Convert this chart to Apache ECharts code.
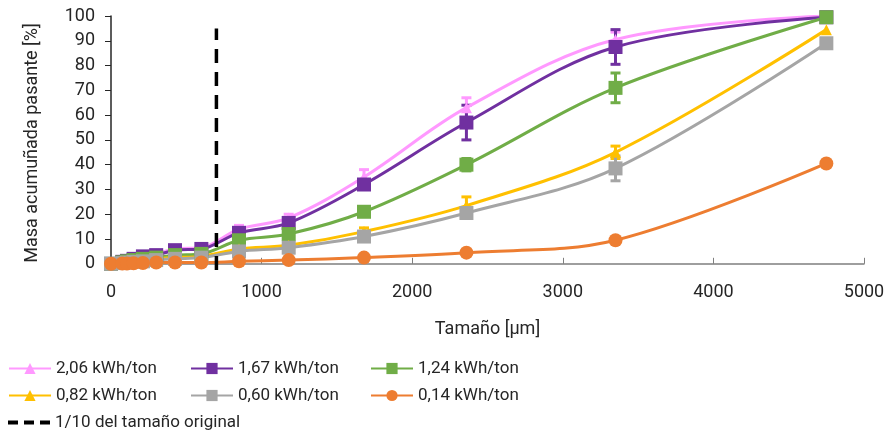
<!DOCTYPE html>
<html>
<head>
<meta charset="utf-8">
<script src="https://cdn.jsdelivr.net/npm/echarts@6/dist/echarts.min.js"></script>
<style>
html, body { margin: 0; padding: 0; background: #fff; }
#chart { width: 888px; height: 434px; }
</style>
</head>
<body>
<div id="chart"></div>
<script>
var sizes = [0, 75, 106, 150, 212, 300, 425, 600, 850, 1180, 1680, 2360, 3350, 4750];
var names = ['2,06 kWh/ton', '1,67 kWh/ton', '1,24 kWh/ton', '0,82 kWh/ton', '0,60 kWh/ton', '0,14 kWh/ton'];
var pass206 = [0, 1, 1.5, 2, 3, 4, 6, 6.5, 14, 18.5, 35, 63, 90.5, 100];
var pass167 = [0, 0.8, 1.2, 2, 3, 3.5, 5.5, 6, 12.5, 16.5, 32, 57, 87.5, 99.5];
var pass124 = [0, 0.6, 1, 1.5, 2, 2.5, 3.5, 4, 9.5, 12, 21, 40, 71, 99.5];
var pass082 = [0, 0.4, 0.7, 1, 1.5, 2, 2.5, 3, 6, 7.5, 13, 23.5, 45, 94.5];
var pass060 = [0, 0.3, 0.5, 0.8, 1, 1.5, 2, 2.5, 5, 6.5, 11, 20.5, 38.5, 89];
var pass014 = [0, 0.1, 0.1, 0.2, 0.3, 0.5, 0.5, 0.5, 1, 1.5, 2.5, 4.5, 9.5, 40.5];
var err206 = [0, 0, 0, 0, 0, 0, 0, 0, 1.5, 1.5, 3, 4, 3, 0];
var err167 = [0, 0, 0, 0, 0, 0, 0, 0, 1, 1.5, 2, 7, 7, 0];
var err124 = [0, 0, 0, 0, 0, 0, 0, 0, 1, 1, 1.5, 2.5, 6, 0];
var err082 = [0, 0, 0, 0, 0, 0, 0, 0, 0.5, 0.5, 1.5, 3.5, 2.5, 0];
var err060 = [0, 0, 0, 0, 0, 0, 0, 0, 0.5, 0.5, 1, 2, 5, 0];
var err014 = [0, 0, 0, 0, 0, 0, 0, 0, 0, 0, 0, 0, 0.5, 0];
var cutName = '1/10 del tamaño original';
var cutX = 700;
var cutY = [-2.5, 95];
var yTicks = [0, 10, 20, 30, 40, 50, 60, 70, 80, 90, 100];

var allPass = [pass206, pass167, pass124, pass082, pass060, pass014];
var allErr = [err206, err167, err124, err082, err060, err014];
var colors = ['#ff99ff', '#7030a0', '#70ad47', '#ffc000', '#a5a5a5', '#ed7d31'];
var symbols = ['triangle', 'rect', 'rect', 'triangle', 'rect', 'circle'];
var symSizes = [11, 14, 14, 11, 14, 14];

var chart = echarts.init(document.getElementById('chart'));

function errSeries(i) {
    var d = [];
    for (var k = 0; k < sizes.length; k++) {
        if (allErr[i][k] > 0) d.push([sizes[k], allPass[i][k] - allErr[i][k], allPass[i][k] + allErr[i][k]]);
    }
    return {
        type: 'custom',
        name: names[i] + ' err',
        data: d,
        z: 2,
        renderItem: function (params, api) {
            var lo = api.coord([api.value(0), api.value(1)]);
            var hi = api.coord([api.value(0), api.value(2)]);
            var w = 5;
            var st = { stroke: colors[i], lineWidth: 3 };
            return {
                type: 'group',
                children: [
                    { type: 'line', shape: { x1: lo[0], y1: lo[1], x2: hi[0], y2: hi[1] }, style: st },
                    { type: 'line', shape: { x1: lo[0] - w, y1: lo[1], x2: lo[0] + w, y2: lo[1] }, style: st },
                    { type: 'line', shape: { x1: hi[0] - w, y1: hi[1], x2: hi[0] + w, y2: hi[1] }, style: st }
                ]
            };
        }
    };
}

var series = [];
for (var i = 0; i < names.length; i++) {
    series.push(errSeries(i));
    var pts = [];
    for (var k = 0; k < sizes.length; k++) pts.push([sizes[k], allPass[i][k]]);
    series.push({
        type: 'line',
        name: names[i],
        data: pts,
        smooth: 0.35,
        symbol: symbols[i],
        symbolSize: symSizes[i],
        z: 3,
        itemStyle: { color: colors[i] },
        lineStyle: { color: colors[i], width: 3 }
    });
}
series.push({
    type: 'line',
    name: cutName,
    data: [[cutX, cutY[0]], [cutX, cutY[1]]],
    symbol: 'none',
    z: 4,
    itemStyle: { color: '#000' },
    lineStyle: { color: '#000', width: 3.5, type: [14, 9] }
});

var txt = { fontFamily: 'Roboto', fontSize: 18, color: '#262626' };

// one legend per entry so the 3-column grid lines up like the original
var legendPos = [[3, 355], [185, 355], [365, 355], [3, 382], [185, 382], [365, 382], [3, 409]];
var legendOrder = [names[0], names[1], names[2], names[3], names[4], names[5], cutName];
var legends = legendOrder.map(function (n, j) {
    var isCut = n === cutName;
    return {
        left: legendPos[j][0], top: legendPos[j][1],
        itemWidth: 42, itemHeight: isCut ? 4 : 14, itemGap: 4,
        textStyle: { fontFamily: 'Roboto', fontSize: 17, color: '#262626' },
        data: [isCut ? { name: n, icon: 'path://M0,0h10v4h-10z M16,0h10v4h-10z M32,0h10v4h-10z' } : n]
    };
});

option = {
    animation: false,
    textStyle: { fontFamily: 'Roboto' },
    grid: { left: 111, right: 24, top: 16, bottom: 164 },
    xAxis: {
        type: 'value',
        min: 0,
        max: 5000,
        interval: 1000,
        name: 'Tamaño [µm]',
        nameLocation: 'middle',
        nameGap: 50,
        nameTextStyle: txt,
        axisLine: { lineStyle: { color: '#7f7f7f', width: 1.5 } },
        axisTick: { inside: true, length: 6, lineStyle: { color: '#7f7f7f' } },
        axisLabel: { fontFamily: 'Roboto', fontSize: 18, color: '#262626', margin: 13,
            formatter: function (v) { return String(v); } },
        splitLine: { show: false }
    },
    yAxis: {
        type: 'value',
        min: -2.5,
        max: 100,
        name: 'Masa acumuñada pasante [%]',
        nameLocation: 'middle',
        nameGap: 70,
        nameTextStyle: txt,
        axisLine: { show: true, lineStyle: { color: '#262626', width: 1.5 } },
        axisTick: { show: true, length: 6, customValues: yTicks, lineStyle: { color: '#262626' } },
        axisLabel: { fontFamily: 'Roboto', fontSize: 18, color: '#262626', margin: 16, customValues: yTicks },
        splitLine: { show: false }
    },
    legend: legends,
    series: series
};
chart.setOption(option);
</script>
</body>
</html>
